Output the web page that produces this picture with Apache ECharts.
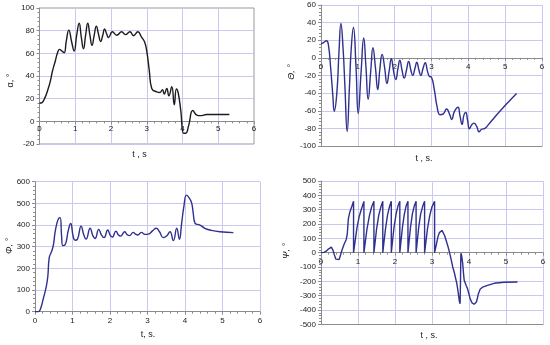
<!DOCTYPE html>
<html><head><meta charset="utf-8">
<script src="https://cdn.jsdelivr.net/npm/echarts@6/dist/echarts.min.js"></script>
<style>html,body{margin:0;padding:0;background:#fff}#c{width:550px;height:345px}</style>
</head><body><div id="c"></div>
<script>
// time axis (s)
const tRange = [0, 6, 1];
// y-axis ranges [min, max, interval]
const alphaRange = [-20, 100, 20];
const thetaRange = [-100, 60, 20];
const phiRange = [0, 600, 100];
const psiRange = [-500, 500, 100];

// alpha (deg) vs t
const alphaData = [
[0,16],[0.07,16.5],[0.14,20],[0.23,27.5],[0.3,35],[0.36,44],[0.44,53],[0.5,60],[0.56,63.5],[0.63,62],[0.69,60.5],[0.75,71],[0.82,80.5],[0.9,70],[0.97,62],[1.04,76],[1.11,86.5],[1.17,74],[1.23,64],[1.29,76],[1.35,86.5],[1.41,76],[1.47,67],[1.53,76],[1.59,84],[1.65,77],[1.71,70.5],[1.77,76],[1.82,81.5],[1.88,77],[1.93,74],[2.04,79],[2.16,76],[2.3,79],[2.4,76.5],[2.53,79],[2.63,75.5],[2.75,79],[2.86,74],[2.94,70],[3.0,62],[3.07,45],[3.14,29],[3.28,26],[3.37,25.5],[3.44,28],[3.49,24],[3.56,29],[3.62,22.5],[3.7,30.5],[3.77,14.5],[3.83,28.5],[3.88,25],[3.95,10],[4.03,-10.5],[4.09,-10.5],[4.17,-4],[4.29,9.5],[4.4,5.5],[4.5,5],[4.68,6],[5.31,6]
];
// Theta (deg) vs t
const thetaData = [
[0,16],[0.06,17],[0.15,19.5],[0.2,15],[0.26,-10],[0.32,-42],[0.36,-60.5],[0.43,-40],[0.49,8],[0.54,39],[0.6,10],[0.65,-33],[0.71,-83.5],[0.77,-35],[0.82,10],[0.88,34.5],[0.95,-10],[1.01,-63],[1.09,-15],[1.16,22.5],[1.22,-10],[1.28,-47],[1.35,-15],[1.41,11.5],[1.48,-12],[1.54,-36],[1.6,-12],[1.66,4],[1.73,-12],[1.79,-29],[1.85,-15],[1.91,-1],[1.97,-15],[2.03,-24.5],[2.09,-12],[2.14,-2.5],[2.2,-14],[2.26,-23],[2.32,-14],[2.38,-4],[2.44,-14],[2.49,-20],[2.55,-12],[2.6,-5],[2.66,-14],[2.71,-20],[2.77,-12],[2.83,-5.5],[2.89,-15],[2.94,-21],[3.0,-22],[3.08,-37],[3.15,-55],[3.23,-64.5],[3.32,-63.5],[3.41,-58],[3.5,-65],[3.55,-70],[3.62,-61],[3.72,-56],[3.77,-65],[3.83,-75.5],[3.88,-65],[3.93,-62],[3.98,-71],[4.03,-80.5],[4.09,-76],[4.15,-74],[4.23,-78],[4.29,-84],[4.36,-81],[4.45,-80],[4.54,-76],[4.72,-67],[4.9,-58.5],[5.09,-50],[5.31,-40.5]
];
// Phi (deg) vs t
const phiData = [
[0,0],[0.09,0],[0.15,15],[0.22,60],[0.29,108],[0.34,160],[0.38,250],[0.44,277],[0.49,307],[0.53,360],[0.58,405],[0.63,430],[0.67,434],[0.71,346],[0.74,305],[0.8,308],[0.89,377],[0.95,407],[1.02,346],[1.07,330],[1.13,334],[1.23,395],[1.3,355],[1.36,335],[1.47,385],[1.54,352],[1.6,338],[1.7,380],[1.77,355],[1.84,342],[1.94,377],[2.0,355],[2.06,344],[2.16,372],[2.22,355],[2.28,349],[2.39,369],[2.45,357],[2.52,351],[2.62,366],[2.68,358],[2.74,354],[2.84,366],[2.93,357],[3.02,358],[3.14,374],[3.23,385],[3.32,369],[3.42,342],[3.51,349],[3.6,369],[3.69,328],[3.78,385],[3.85,334],[3.91,408],[3.97,485],[4.04,538],[4.12,523],[4.18,500],[4.22,454],[4.27,408],[4.4,400],[4.53,385],[4.67,377],[4.93,369],[5.29,365]
];
// Psi (deg) vs t
const psiData = [
[0,0],[0.08,2],[0.14,10],[0.2,25],[0.25,38],[0.28,38],[0.32,20],[0.36,-15],[0.4,-45],[0.45,-58],[0.49,-48],[0.53,-15],[0.57,20],[0.63,62],[0.68,90],[0.71,130],[0.74,237],[0.78,284],[0.83,320],[0.88,358],
[0.88,0],[0.97,170],[1.03,250],[1.1,310],[1.16,358],
[1.16,0],[1.24,160],[1.31,260],[1.37,320],[1.43,358],
[1.43,0],[1.5,160],[1.56,260],[1.62,320],[1.67,358],
[1.67,0],[1.74,160],[1.8,265],[1.85,320],[1.9,358],
[1.9,0],[1.97,170],[2.03,270],[2.08,325],[2.13,358],
[2.13,0],[2.2,175],[2.25,265],[2.3,325],[2.35,358],
[2.35,0],[2.42,180],[2.47,270],[2.52,325],[2.57,358],
[2.57,0],[2.64,175],[2.69,265],[2.75,325],[2.8,358],
[2.8,0],[2.88,170],[2.94,260],[3.0,320],[3.07,358],
[3.07,0],[3.12,60],[3.16,110],[3.2,140],[3.24,153],[3.27,155],[3.3,145],[3.34,120],[3.38,86],[3.43,45],[3.47,5],[3.52,-50],[3.56,-100],[3.6,-135],[3.63,-170],[3.67,-215],[3.7,-263],[3.74,-340],[3.76,-356],[3.77,-200],[3.78,-5],[3.8,-20],[3.83,-77],[3.85,-140],[3.87,-193],[3.92,-228],[3.96,-251],[4.0,-290],[4.03,-321],[4.08,-350],[4.14,-360],[4.18,-355],[4.2,-344],[4.23,-315],[4.25,-290],[4.3,-255],[4.37,-240],[4.5,-228],[4.68,-214],[4.95,-207],[5.31,-205]
];

const AX = '#8c8c8c', GR = '#c9c9ef', TX = '#222', FF = 'Liberation Sans, Arial, sans-serif';
const NAVY = '#30308e';

const grids = [
  {left:39.5, top:8, width:214.5, height:136},
  {left:321, top:5, width:221, height:141},
  {left:35, top:181.7, width:225, height:130},
  {left:321, top:181, width:222, height:143.3}
];
const ranges = [alphaRange, thetaRange, phiRange, psiRange];

function zeroOffset(gi) {
  const r = ranges[gi];
  return -grids[gi].height * (0 - r[0]) / (r[1] - r[0]);
}
function xAx(gi, margin, showMax) {
  return {type:'value', gridIndex:gi, min:tRange[0], max:tRange[1], interval:tRange[2],
    position:'bottom', offset: zeroOffset(gi),
    axisLine:{show:true, onZero:false, lineStyle:{color:AX, width:1}},
    axisTick:{show:true, length:3, lineStyle:{color:AX}},
    minorTick:{show:true, splitNumber:5, length:2, lineStyle:{color:AX}},
    axisLabel:{fontSize:8, color:TX, margin:margin, fontFamily:FF},
    splitLine:{show:true, showMaxLine:showMax, lineStyle:{color:GR, width:1}}};
}
function yAx(gi, r, showMax) {
  return {type:'value', gridIndex:gi, min:r[0], max:r[1], interval:r[2],
    axisLine:{show:true, onZero:false, lineStyle:{color:AX, width:1}},
    axisTick:{show:true, length:3, lineStyle:{color:AX}},
    minorTick:{show:true, splitNumber:5, length:2, lineStyle:{color:AX}},
    axisLabel:{fontSize:8, color:TX, margin:5, fontFamily:FF},
    splitLine:{show:true, showMaxLine:showMax, lineStyle:{color:GR, width:1}}};
}
function bottomLine(gi) {
  return {type:'value', gridIndex:gi, min:tRange[0], max:tRange[1], position:'bottom', offset:0,
    axisLine:{show:true, onZero:false, lineStyle:{color:AX}}, axisTick:{show:false},
    axisLabel:{show:false}, splitLine:{show:false}};
}
function ser(xi, yi, data, color, smooth) {
  return {type:'line', xAxisIndex:xi, yAxisIndex:yi, data:data, showSymbol:false, smooth:smooth,
    lineStyle:{color:color, width:1.4}, itemStyle:{color:color}, animation:false, z:5};
}
function txt(x, y, s, rot, italic) {
  return {type:'text', x:x, y:y, rotation: rot ? Math.PI/2 : 0,
    style:{text:s, fontSize:9, fontFamily:FF, fill:TX, align:'center', verticalAlign:'middle', fontStyle: italic ? 'italic' : 'normal'}};
}

const chart = echarts.init(document.getElementById('c'));
chart.setOption({
  animation:false,
  backgroundColor:'#fff',
  grid:[
    Object.assign({show:true, borderColor:'#999', borderWidth:1}, grids[0]),
    grids[1], grids[2], grids[3]
  ],
  xAxis:[xAx(0,3,false), xAx(1,5,true), xAx(2,5,true), xAx(3,5,true), bottomLine(1), bottomLine(3)],
  yAxis:[yAx(0,alphaRange,false), yAx(1,thetaRange,true), yAx(2,phiRange,true), yAx(3,psiRange,true)],
  series:[
    ser(0,0,alphaData,'#1c1c1c',true),
    ser(1,1,thetaData,NAVY,true),
    ser(2,2,phiData,NAVY,true),
    ser(3,3,psiData,NAVY,false)
  ],
  graphic:[
    txt(139.5,155,'t , s',false,false),
    txt(424,159,'t , s.',false,false),
    txt(148,334.5,'t, s.',false,false),
    txt(429,335.5,'t , s.',false,false),
    txt(11,80.5,'α, °',true,false),
    txt(291,72,'Θ, °',true,true),
    txt(9.5,246,'Φ, °',true,true),
    txt(286.5,251,'Ψ, °',true,true)
  ]
});
</script></body></html>
